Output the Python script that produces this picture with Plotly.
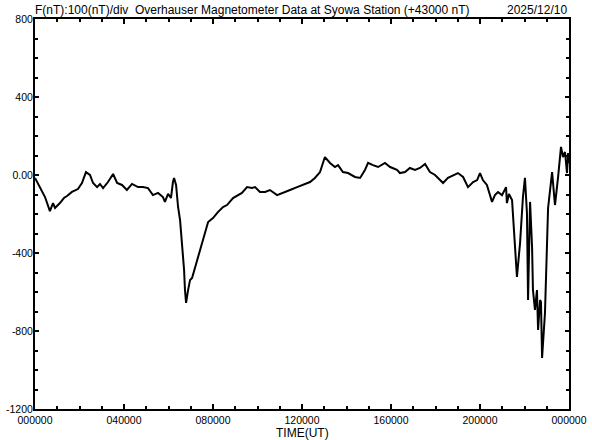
import plotly.graph_objects as go

# Time in hours UT, field deviation (label units)
hours = [0.00, 0.09, 0.22, 0.45, 0.67, 0.81, 0.90, 1.12, 1.30, 1.44, 1.66, 1.93, 2.11, 2.29, 2.47,
         2.61, 2.79, 2.92, 3.06, 3.28, 3.51, 3.69, 3.91, 4.13, 4.36, 4.63, 4.85, 5.08, 5.30, 5.53,
         5.75, 5.84, 5.98, 6.11, 6.20, 6.25, 6.34, 6.43, 6.52, 6.61, 6.70, 6.74, 6.79, 6.88, 6.97,
         7.06, 7.19, 7.42, 7.64, 7.78, 8.00, 8.22, 8.45, 8.63, 8.90, 9.12, 9.30, 9.53, 9.75, 9.89,
         10.11, 10.34, 10.56, 10.88, 11.15, 11.46, 11.78, 12.04, 12.36, 12.58, 12.81, 13.03, 13.26,
         13.48, 13.62, 13.84, 14.07, 14.38, 14.61, 14.83, 14.97, 15.19, 15.42, 15.73, 15.96, 16.27,
         16.40, 16.63, 16.85, 17.08, 17.30, 17.53, 17.75, 17.98, 18.20, 18.34, 18.56, 18.79, 19.01,
         19.24, 19.46, 19.69, 19.87, 20.00, 20.13, 20.31, 20.54, 20.67, 20.81, 20.99, 21.17, 21.21,
         21.30, 21.44, 21.48, 21.57, 21.66, 21.80, 21.93, 22.02, 22.11, 22.16, 22.25, 22.34, 22.38,
         22.47, 22.56, 22.61, 22.70, 22.74, 22.79, 22.92, 23.06, 23.24, 23.37, 23.51, 23.64, 23.73,
         23.82, 23.91, 23.96, 24.00]
values = [-15, -36, -67, -113, -185, -144, -169, -144, -118, -108, -87, -72, -41, 15, 0,
          -41, -62, -46, -67, -36, 5, -41, -51, -77, -46, -62, -62, -67, -103, -92,
          -113, -138, -97, -118, -36, -15, -51, -164, -231, -349, -487, -590, -656, -590, -538,
          -528, -477, -385, -297, -241, -221, -190, -164, -154, -118, -103, -92, -62, -67, -62,
          -87, -87, -77, -103, -92, -77, -62, -51, -36, -15, 15, 92, 62,
          41, 51, 15, 10, -10, -15, 26, 62, 51, 41, 62, 41, 26,
          10, 15, 36, 26, 36, 56, 15, 0, -26, -41, -15, 0, 10,
          -10, -62, -36, -26, 10, -26, -51, -138, -103, -87, -103, -62, -144,
          -97, -128, -195, -333, -523, -349, -113, -15, -195, -641, -138, -369, -590,
          -692, -590, -795, -641, -651, -938, -708, -169, 15, -154, -10, 144, 92,
          118, 10, 113, 60]

x_tickvals = [0, 4, 8, 12, 16, 20, 24]
x_ticktext = ["000000", "040000", "080000", "120000", "160000", "200000", "000000"]
y_tickvals = [800, 400, 0, -400, -800, -1200]
y_ticktext = ["800", "400", "0.00", "-400", "-800", "-1200"]

title_text = "F(nT):100(nT)/div  Overhauser Magnetometer Data at Syowa Station (+43000 nT)"
date_text = "2025/12/10"
xlabel = "TIME(UT)"

font = "Liberation Sans, Arial, sans-serif"

fig = go.Figure()
fig.add_trace(go.Scatter(x=hours, y=values, mode="lines",
                         line=dict(color="black", width=2), hoverinfo="skip"))

fig.update_layout(
    width=592, height=440,
    margin=dict(l=35, r=23, t=19, b=31),
    paper_bgcolor="white", plot_bgcolor="white",
    showlegend=False,
    font=dict(family=font, color="black"),
)
fig.update_xaxes(
    range=[0, 24], tickvals=x_tickvals, ticktext=x_ticktext,
    ticks="inside", ticklen=5, tickwidth=2, tickcolor="black",
    minor=dict(dtick=1, ticks="inside", ticklen=3, tickwidth=2, tickcolor="black", showgrid=False),
    showline=True, linecolor="black", linewidth=2, mirror="allticks",
    showgrid=False, zeroline=False, automargin=False,
    tickfont=dict(size=10.5, family=font),
)
fig.update_yaxes(
    range=[-1200, 800], tickvals=y_tickvals, ticktext=y_ticktext,
    ticks="inside", ticklen=4, tickwidth=2, tickcolor="black",
    minor=dict(dtick=100, ticks="inside", ticklen=3, tickwidth=2, tickcolor="black", showgrid=False),
    showline=True, linecolor="black", linewidth=2, mirror="allticks",
    showgrid=False, zeroline=False, automargin=False,
    tickfont=dict(size=10.5, family=font), ticklabelstandoff=-2,
)
fig.add_annotation(text=title_text, xref="paper", yref="paper", x=0, y=1,
                   xanchor="left", yanchor="bottom", showarrow=False, yshift=0, xshift=-2,
                   font=dict(size=12, family=font))
fig.add_annotation(text=date_text, xref="paper", yref="paper", x=1, y=1,
                   xanchor="right", yanchor="bottom", showarrow=False, yshift=0,
                   font=dict(size=12, family=font))
fig.add_annotation(text=xlabel, xref="paper", yref="paper", x=0.5, y=0,
                   xanchor="center", yanchor="top", showarrow=False, yshift=-15,
                   font=dict(size=12, family=font))

fig.write_html("out.html", config={"displayModeBar": False},
               post_script="document.body.style.margin='0';")
